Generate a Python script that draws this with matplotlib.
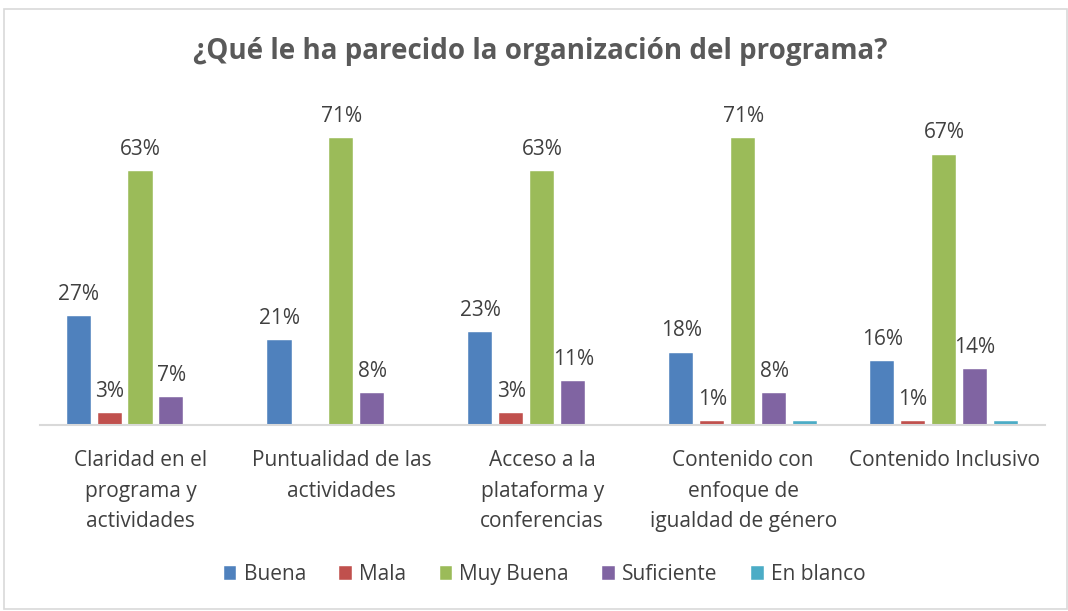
import numpy as np
import matplotlib.pyplot as plt
from matplotlib.patches import Rectangle

categories = ['Claridad en el\nprograma y\nactividades',
              'Puntualidad de las\nactividades',
              'Acceso a la\nplataforma y\nconferencias',
              'Contenido con\nenfoque de\nigualdad de género',
              'Contenido Inclusivo']
series = ['Buena', 'Mala', 'Muy Buena', 'Suficiente', 'En blanco']
buena = [27, 21, 23, 18, 16]
mala = [3, 0, 3, 1, 1]
muy_buena = [63, 71, 63, 71, 67]
suficiente = [7, 8, 11, 8, 14]
en_blanco = [0, 0, 0, 1, 1]

colors = ['#4F81BD', '#C0504D', '#9BBB59', '#8064A2', '#4BACC6']
data = [buena, mala, muy_buena, suficiente, en_blanco]

plt.rcParams['font.family'] = ['Open Sans', 'DejaVu Sans']
txt = '#404040'

fig = plt.figure(figsize=(10.68, 6.11), dpi=100)
ax = fig.add_axes([0.0375, 0.304, 0.9405, 0.529])

x = np.arange(len(categories))
w = 0.12
step = 0.154
for i, (name, vals) in enumerate(zip(series, data)):
    pos = x + (i - 2) * step
    bars = ax.bar(pos, vals, w, color=colors[i], label=name,
                  edgecolor='white', linewidth=0.3)
    if name == 'En blanco':
        continue
    for b, v in zip(bars, vals):
        if v > 0:
            ax.annotate('%d%%' % v, (b.get_x() + b.get_width() / 2, v),
                        xytext=(0, 8), textcoords='offset points',
                        ha='center', va='bottom', fontsize=15, color=txt)

ax.set_xlim(-0.5, len(categories) - 0.5)
ax.set_ylim(0, 80)
ax.set_yticks([])
ax.set_xticks(x)
ax.set_xticklabels(categories, fontsize=15, color=txt, linespacing=1.6)
ax.tick_params(axis='x', length=0, pad=18)
for s in ['top', 'right', 'left']:
    ax.spines[s].set_visible(False)
ax.spines['bottom'].set_color('#D9D9D9')
ax.spines['bottom'].set_linewidth(1.5)

fig.text(0.506, 0.915, '¿Qué le ha parecido la organización del programa?',
         ha='center', va='center', fontsize=20, fontweight='bold', color='#595959')

leg = fig.legend(loc='center', bbox_to_anchor=(0.51, 0.059), ncol=5, frameon=False,
                 fontsize=15, handlelength=0.6, handleheight=0.6,
                 handletextpad=0.35, columnspacing=1.6)
for t in leg.get_texts():
    t.set_color(txt)

fig.patches.append(Rectangle((0.004, 0.004), 0.995, 0.982, transform=fig.transFigure,
                             fill=False, edgecolor='#D9D9D9', linewidth=1.2))

fig.savefig('out.png', dpi=100)
